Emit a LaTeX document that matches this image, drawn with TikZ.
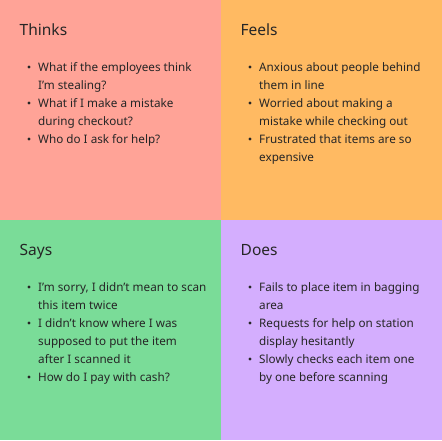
\documentclass[tikz,border=0pt]{standalone}
\usepackage{fontspec}
\setmainfont{Noto Sans}
\usepackage{tikz}
\usetikzlibrary{positioning}

\definecolor{thinkbg}{HTML}{FFA397}
\definecolor{feelbg}{HTML}{FFBA62}
\definecolor{saybg}{HTML}{7ADC98}
\definecolor{doesbg}{HTML}{D4AEFE}
\definecolor{ink}{HTML}{262626}

\tikzset{
  heading/.style={anchor=base west, inner sep=0pt, text=ink, font=\fontsize{15.5}{18}\selectfont},
  item/.style={anchor=base west, inner sep=0pt, text=ink, font=\fontsize{11.7}{18}\selectfont},
  dot/.style={circle, fill=ink, inner sep=0pt, minimum size=3.2pt}
}

% one coloured quarter with its heading
\newcommand{\quarter}[5]{
    \fill[#4] (#2,#3) rectangle ++(221,220);
    \node[heading] (#1) at (#2+19.5,#3+35) {#5};
}

% lines of a quarter: line number / bullet or not / text
\newcommand{\lines}[4]{
    \foreach \n/\b/\txt in {#4} {
        \node[item] (#1-\n) at (#2+38,#3+71.5+18*\n) {\txt};
        \ifnum\b=1
            \node[dot] (#1-dot-\n) at (#2+29,#3+67+18*\n) {};
        \fi
    }
}

\begin{document}
\begin{tikzpicture}[x=1pt, y=-1pt]

    \useasboundingbox (0,0) rectangle (442,440);

    % Cuadrantes
    \quarter{thinks}{0}{0}{thinkbg}{Thinks}
    \quarter{feels}{221}{0}{feelbg}{Feels}
    \quarter{says}{0}{220}{saybg}{Says}
    \quarter{does}{221}{220}{doesbg}{Does}

    % Textos
    \lines{thinks}{0}{0}{
        0/1/What if the employees think,
        1/0/I'm stealing?,
        2/1/What if I make a mistake,
        3/0/during checkout?,
        4/1/Who do I ask for help?}

    \lines{feels}{221}{0}{
        0/1/Anxious about people behind,
        1/0/them in line,
        2/1/Worried about making a,
        3/0/mistake while checking out,
        4/1/Frustrated that items are so,
        5/0/expensive}

    \lines{says}{0}{220}{
        0/1/{I'm sorry, I didn't mean to scan},
        1/0/this item twice,
        2/1/I didn't know where I was,
        3/0/supposed to put the item,
        4/0/after I scanned it,
        5/1/How do I pay with cash?}

    \lines{does}{221}{220}{
        0/1/Fails to place item in bagging,
        1/0/area,
        2/1/Requests for help on station,
        3/0/display hesitantly,
        4/1/Slowly checks each item one,
        5/0/by one before scanning}

\end{tikzpicture}
\end{document}
